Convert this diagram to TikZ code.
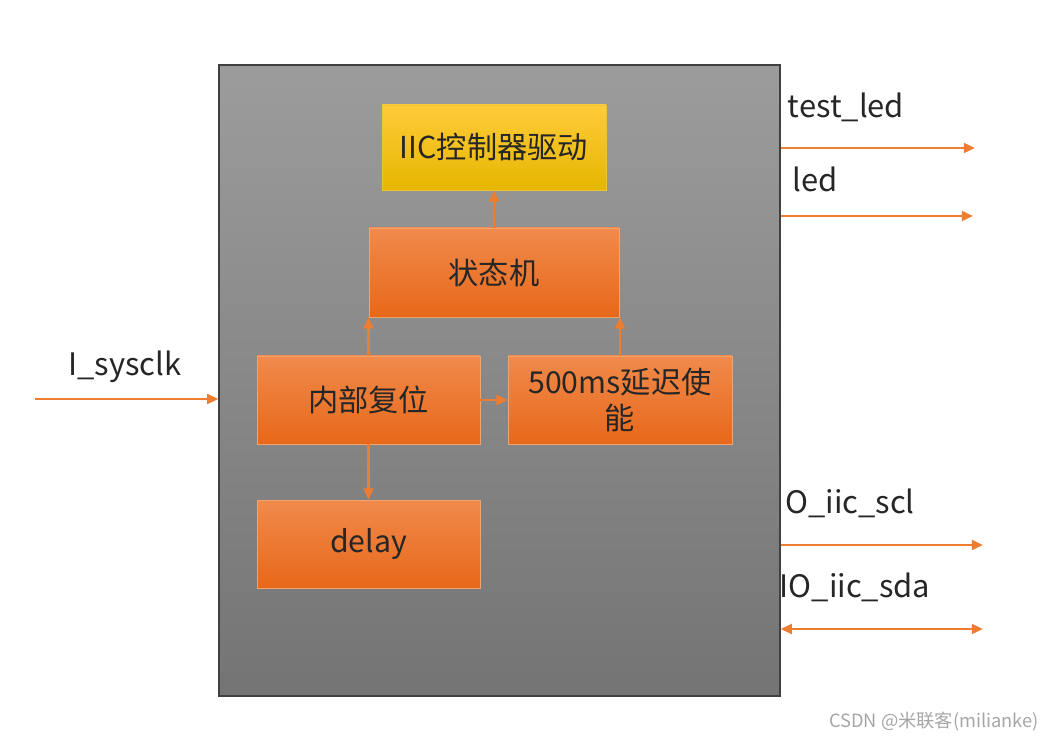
\documentclass[tikz,border=0pt]{standalone}
\usepackage{fontspec}
\setmainfont{Noto Sans CJK SC}
\usepackage{tikz}
\usetikzlibrary{positioning,arrows.meta}
\definecolor{wire}{HTML}{ED7D31}
\definecolor{boxtop}{HTML}{F08A4B}
\definecolor{boxbot}{HTML}{E8681A}
\definecolor{goldtop}{HTML}{FFCB3A}
\definecolor{goldbot}{HTML}{E6B600}
\definecolor{chiptop}{HTML}{9C9C9C}
\definecolor{chipbot}{HTML}{747474}

\begin{document}
\begin{tikzpicture}[x=0.25mm,y=-0.25mm,->,>={Triangle[length=8pt,width=7pt]}]
		\tikzstyle{block}=[rectangle, draw=wire!70, top color=boxtop, bottom color=boxbot, font=\fontsize{21.5}{26}\selectfont, text=black!85, align=center, inner sep=0pt]
		\tikzstyle{port}=[font=\fontsize{22}{26}\selectfont, text=black!85, inner sep=0pt]
		\tikzset{sig/.style={line width=1.8pt, color=wire}}
		\useasboundingbox (0,0) rectangle (1046,743);
		\node[rectangle, draw=black!75, line width=0.8pt, top color=chiptop, bottom color=chipbot, minimum width=140.25mm, minimum height=157.75mm] (chip) at (499.5,380.5) {};
		\node[block, draw=goldbot!80, top color=goldtop, bottom color=goldbot, minimum width=56mm, minimum height=21.25mm] (iic) at (494,147.5) {IIC控制器驱动};
		\node[block, minimum width=62.5mm, minimum height=22.25mm] (fsm) at (494,272.5) {状态机};
		\node[block, minimum width=55.75mm, minimum height=22mm] (rst) at (368.5,400) {内部复位};
		\node[block, minimum width=56mm, minimum height=22mm] (wait) at (620,400) {500ms延迟使\\能};
		\node[block, minimum width=55.75mm, minimum height=22mm] (delay) at (368.5,544) {delay};
		\path (fsm) edge[sig] (iic);
		\draw[sig] (rst.north) -- (rst.north |- fsm.south);
		\draw[sig] (wait.north) -- (wait.north |- fsm.south);
		\draw[sig] (rst) -- (wait);
		\draw[sig] (rst) -- (delay);
		% ports
		\coordinate (clkin) at (35,399);
		\coordinate (ledA) at (975,148);
		\coordinate (ledB) at (973,216);
		\coordinate (scl) at (983,545);
		\coordinate (sda) at (983,629);
		\draw[sig] (clkin) -- (clkin -| chip.west);
		\draw[sig] (ledA -| chip.east) -- (ledA);
		\draw[sig] (ledB -| chip.east) -- (ledB);
		\draw[sig] (scl -| chip.east) -- (scl);
		\draw[sig,<->] (sda -| chip.east) -- (sda);
		\node[port] (nclk) at (125,367) {I\_sysclk};
		\node[port] (ntest) at (846,107) {test\_led};
		\node[port] (nled) at (815,179) {led};
		\node[port] (nscl) at (850,503) {O\_iic\_scl};
		\node[port] (nsda) at (855,587) {IO\_iic\_sda};
		\node[font=\fontsize{13}{15}\selectfont, text=black!35, inner sep=0pt] (mark) at (934,722) {CSDN @米联客(milianke)};
	\end{tikzpicture}
\end{document}
